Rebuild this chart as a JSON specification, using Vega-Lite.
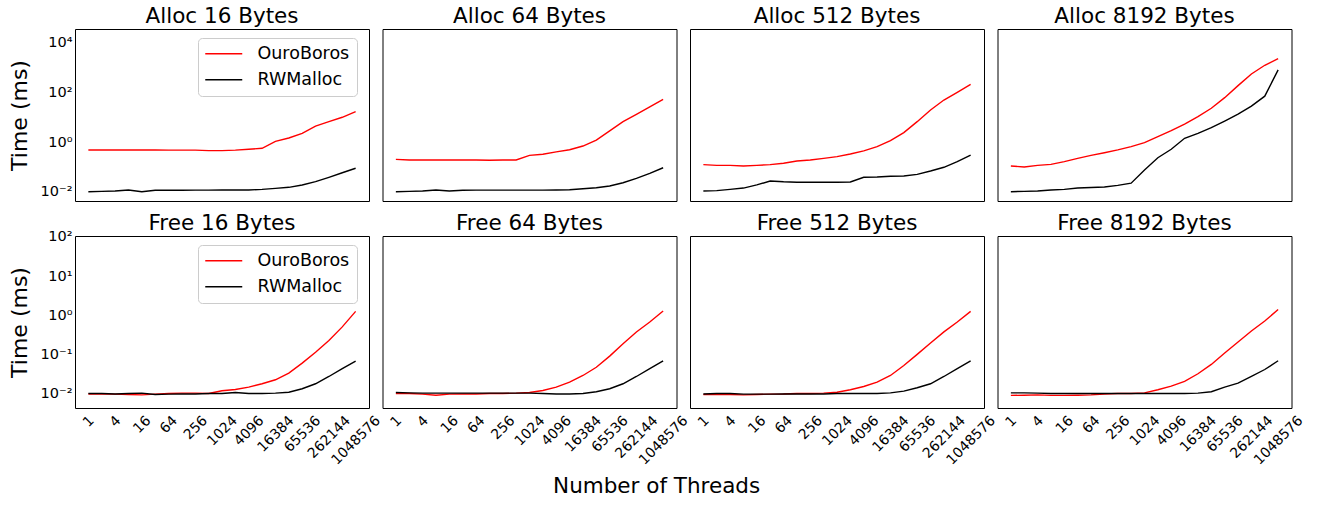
{
  "$schema": "https://vega.github.io/schema/vega-lite/v6.json",
  "padding": {"left": 7, "top": 5, "right": 0, "bottom": 0},
  "config": {
    "font": "DejaVu Sans",
    "view": {"stroke": "#000000", "strokeWidth": 1},
    "title": {"fontWeight": "normal", "fontSize": 21.5, "color": "#000000", "font": "DejaVu Sans"},
    "axis": {"labelColor": "#000000", "titleColor": "#000000", "labelFont": "DejaVu Sans", "titleFont": "DejaVu Sans"},
    "legend": {"labelFont": "DejaVu Sans"}
  },
  "datasets": {
    "a16": [
      {"threads": 1, "OuroBoros": 0.477, "RWMalloc": 0.0100},
      {"threads": 2, "OuroBoros": 0.48, "RWMalloc": 0.0103},
      {"threads": 4, "OuroBoros": 0.48, "RWMalloc": 0.0106},
      {"threads": 8, "OuroBoros": 0.48, "RWMalloc": 0.0117},
      {"threads": 16, "OuroBoros": 0.48, "RWMalloc": 0.0100},
      {"threads": 32, "OuroBoros": 0.48, "RWMalloc": 0.0114},
      {"threads": 64, "OuroBoros": 0.47, "RWMalloc": 0.0114},
      {"threads": 128, "OuroBoros": 0.47, "RWMalloc": 0.0115},
      {"threads": 256, "OuroBoros": 0.47, "RWMalloc": 0.0116},
      {"threads": 512, "OuroBoros": 0.45, "RWMalloc": 0.0116},
      {"threads": 1024, "OuroBoros": 0.45, "RWMalloc": 0.0117},
      {"threads": 2048, "OuroBoros": 0.47, "RWMalloc": 0.0117},
      {"threads": 4096, "OuroBoros": 0.51, "RWMalloc": 0.0117},
      {"threads": 8192, "OuroBoros": 0.56, "RWMalloc": 0.0124},
      {"threads": 16384, "OuroBoros": 1.06, "RWMalloc": 0.0136},
      {"threads": 32768, "OuroBoros": 1.45, "RWMalloc": 0.0150},
      {"threads": 65536, "OuroBoros": 2.24, "RWMalloc": 0.0187},
      {"threads": 131072, "OuroBoros": 4.4, "RWMalloc": 0.0253},
      {"threads": 262144, "OuroBoros": 6.6, "RWMalloc": 0.038},
      {"threads": 524288, "OuroBoros": 9.9, "RWMalloc": 0.058},
      {"threads": 1048576, "OuroBoros": 16.6, "RWMalloc": 0.088}
    ],
    "a64": [
      {"threads": 1, "OuroBoros": 0.20, "RWMalloc": 0.0100},
      {"threads": 2, "OuroBoros": 0.19, "RWMalloc": 0.0103},
      {"threads": 4, "OuroBoros": 0.19, "RWMalloc": 0.0106},
      {"threads": 8, "OuroBoros": 0.19, "RWMalloc": 0.0117},
      {"threads": 16, "OuroBoros": 0.19, "RWMalloc": 0.0106},
      {"threads": 32, "OuroBoros": 0.19, "RWMalloc": 0.0114},
      {"threads": 64, "OuroBoros": 0.19, "RWMalloc": 0.0116},
      {"threads": 128, "OuroBoros": 0.185, "RWMalloc": 0.0116},
      {"threads": 256, "OuroBoros": 0.19, "RWMalloc": 0.0116},
      {"threads": 512, "OuroBoros": 0.19, "RWMalloc": 0.0116},
      {"threads": 1024, "OuroBoros": 0.29, "RWMalloc": 0.0116},
      {"threads": 2048, "OuroBoros": 0.32, "RWMalloc": 0.0116},
      {"threads": 4096, "OuroBoros": 0.40, "RWMalloc": 0.0117},
      {"threads": 8192, "OuroBoros": 0.49, "RWMalloc": 0.0120},
      {"threads": 16384, "OuroBoros": 0.69, "RWMalloc": 0.0131},
      {"threads": 32768, "OuroBoros": 1.2, "RWMalloc": 0.0145},
      {"threads": 65536, "OuroBoros": 2.8, "RWMalloc": 0.017},
      {"threads": 131072, "OuroBoros": 6.6, "RWMalloc": 0.023},
      {"threads": 262144, "OuroBoros": 13, "RWMalloc": 0.0345},
      {"threads": 524288, "OuroBoros": 26, "RWMalloc": 0.055},
      {"threads": 1048576, "OuroBoros": 52, "RWMalloc": 0.092}
    ],
    "a512": [
      {"threads": 1, "OuroBoros": 0.123, "RWMalloc": 0.0106},
      {"threads": 2, "OuroBoros": 0.115, "RWMalloc": 0.011},
      {"threads": 4, "OuroBoros": 0.115, "RWMalloc": 0.0124},
      {"threads": 8, "OuroBoros": 0.108, "RWMalloc": 0.014},
      {"threads": 16, "OuroBoros": 0.115, "RWMalloc": 0.0187},
      {"threads": 32, "OuroBoros": 0.123, "RWMalloc": 0.027},
      {"threads": 64, "OuroBoros": 0.139, "RWMalloc": 0.025},
      {"threads": 128, "OuroBoros": 0.172, "RWMalloc": 0.024},
      {"threads": 256, "OuroBoros": 0.189, "RWMalloc": 0.024},
      {"threads": 512, "OuroBoros": 0.22, "RWMalloc": 0.024},
      {"threads": 1024, "OuroBoros": 0.257, "RWMalloc": 0.024},
      {"threads": 2048, "OuroBoros": 0.33, "RWMalloc": 0.0245},
      {"threads": 4096, "OuroBoros": 0.44, "RWMalloc": 0.038},
      {"threads": 8192, "OuroBoros": 0.65, "RWMalloc": 0.039},
      {"threads": 16384, "OuroBoros": 1.13, "RWMalloc": 0.042},
      {"threads": 32768, "OuroBoros": 2.4, "RWMalloc": 0.043},
      {"threads": 65536, "OuroBoros": 6.6, "RWMalloc": 0.050},
      {"threads": 131072, "OuroBoros": 19.5, "RWMalloc": 0.068},
      {"threads": 262144, "OuroBoros": 49, "RWMalloc": 0.096},
      {"threads": 524288, "OuroBoros": 100, "RWMalloc": 0.162},
      {"threads": 1048576, "OuroBoros": 210, "RWMalloc": 0.30}
    ],
    "a8192": [
      {"threads": 1, "OuroBoros": 0.108, "RWMalloc": 0.0100},
      {"threads": 2, "OuroBoros": 0.0987, "RWMalloc": 0.0103},
      {"threads": 4, "OuroBoros": 0.115, "RWMalloc": 0.0106},
      {"threads": 8, "OuroBoros": 0.126, "RWMalloc": 0.0117},
      {"threads": 16, "OuroBoros": 0.162, "RWMalloc": 0.0124},
      {"threads": 32, "OuroBoros": 0.22, "RWMalloc": 0.014},
      {"threads": 64, "OuroBoros": 0.29, "RWMalloc": 0.0147},
      {"threads": 128, "OuroBoros": 0.37, "RWMalloc": 0.0155},
      {"threads": 256, "OuroBoros": 0.48, "RWMalloc": 0.018},
      {"threads": 512, "OuroBoros": 0.65, "RWMalloc": 0.022},
      {"threads": 1024, "OuroBoros": 0.94, "RWMalloc": 0.075},
      {"threads": 2048, "OuroBoros": 1.64, "RWMalloc": 0.234},
      {"threads": 4096, "OuroBoros": 2.86, "RWMalloc": 0.51},
      {"threads": 8192, "OuroBoros": 5.3, "RWMalloc": 1.41},
      {"threads": 16384, "OuroBoros": 10.5, "RWMalloc": 2.24},
      {"threads": 32768, "OuroBoros": 22.8, "RWMalloc": 3.78},
      {"threads": 65536, "OuroBoros": 61, "RWMalloc": 7.0},
      {"threads": 131072, "OuroBoros": 186, "RWMalloc": 13.4},
      {"threads": 262144, "OuroBoros": 550, "RWMalloc": 28},
      {"threads": 524288, "OuroBoros": 1230, "RWMalloc": 70},
      {"threads": 1048576, "OuroBoros": 2270, "RWMalloc": 800}
    ],
    "f16": [
      {"threads": 1, "OuroBoros": 0.0100, "RWMalloc": 0.0103},
      {"threads": 2, "OuroBoros": 0.0100, "RWMalloc": 0.0103},
      {"threads": 4, "OuroBoros": 0.0099, "RWMalloc": 0.0100},
      {"threads": 8, "OuroBoros": 0.0097, "RWMalloc": 0.0103},
      {"threads": 16, "OuroBoros": 0.0095, "RWMalloc": 0.0105},
      {"threads": 32, "OuroBoros": 0.0099, "RWMalloc": 0.0097},
      {"threads": 64, "OuroBoros": 0.0103, "RWMalloc": 0.0099},
      {"threads": 128, "OuroBoros": 0.0105, "RWMalloc": 0.0100},
      {"threads": 256, "OuroBoros": 0.0105, "RWMalloc": 0.0100},
      {"threads": 512, "OuroBoros": 0.0103, "RWMalloc": 0.0103},
      {"threads": 1024, "OuroBoros": 0.0121, "RWMalloc": 0.0103},
      {"threads": 2048, "OuroBoros": 0.0130, "RWMalloc": 0.0109},
      {"threads": 4096, "OuroBoros": 0.0149, "RWMalloc": 0.0103},
      {"threads": 8192, "OuroBoros": 0.0182, "RWMalloc": 0.0103},
      {"threads": 16384, "OuroBoros": 0.023, "RWMalloc": 0.0105},
      {"threads": 32768, "OuroBoros": 0.034, "RWMalloc": 0.0111},
      {"threads": 65536, "OuroBoros": 0.061, "RWMalloc": 0.0136},
      {"threads": 131072, "OuroBoros": 0.116, "RWMalloc": 0.0182},
      {"threads": 262144, "OuroBoros": 0.23, "RWMalloc": 0.0279},
      {"threads": 524288, "OuroBoros": 0.51, "RWMalloc": 0.044},
      {"threads": 1048576, "OuroBoros": 1.27, "RWMalloc": 0.0686}
    ],
    "f64": [
      {"threads": 1, "OuroBoros": 0.0103, "RWMalloc": 0.0109},
      {"threads": 2, "OuroBoros": 0.0103, "RWMalloc": 0.0107},
      {"threads": 4, "OuroBoros": 0.0099, "RWMalloc": 0.0105},
      {"threads": 8, "OuroBoros": 0.0093, "RWMalloc": 0.0105},
      {"threads": 16, "OuroBoros": 0.0099, "RWMalloc": 0.0105},
      {"threads": 32, "OuroBoros": 0.0100, "RWMalloc": 0.0105},
      {"threads": 64, "OuroBoros": 0.0100, "RWMalloc": 0.0105},
      {"threads": 128, "OuroBoros": 0.0103, "RWMalloc": 0.0105},
      {"threads": 256, "OuroBoros": 0.0103, "RWMalloc": 0.0105},
      {"threads": 512, "OuroBoros": 0.0105, "RWMalloc": 0.0105},
      {"threads": 1024, "OuroBoros": 0.0109, "RWMalloc": 0.0105},
      {"threads": 2048, "OuroBoros": 0.0123, "RWMalloc": 0.0103},
      {"threads": 4096, "OuroBoros": 0.0149, "RWMalloc": 0.0100},
      {"threads": 8192, "OuroBoros": 0.020, "RWMalloc": 0.0100},
      {"threads": 16384, "OuroBoros": 0.0296, "RWMalloc": 0.0103},
      {"threads": 32768, "OuroBoros": 0.048, "RWMalloc": 0.0114},
      {"threads": 65536, "OuroBoros": 0.092, "RWMalloc": 0.0136},
      {"threads": 131072, "OuroBoros": 0.19, "RWMalloc": 0.0182},
      {"threads": 262144, "OuroBoros": 0.38, "RWMalloc": 0.0279},
      {"threads": 524288, "OuroBoros": 0.68, "RWMalloc": 0.044},
      {"threads": 1048576, "OuroBoros": 1.30, "RWMalloc": 0.070}
    ],
    "f512": [
      {"threads": 1, "OuroBoros": 0.0097, "RWMalloc": 0.0100},
      {"threads": 2, "OuroBoros": 0.0097, "RWMalloc": 0.0103},
      {"threads": 4, "OuroBoros": 0.0097, "RWMalloc": 0.0103},
      {"threads": 8, "OuroBoros": 0.0095, "RWMalloc": 0.0099},
      {"threads": 16, "OuroBoros": 0.0097, "RWMalloc": 0.0099},
      {"threads": 32, "OuroBoros": 0.0099, "RWMalloc": 0.0099},
      {"threads": 64, "OuroBoros": 0.0100, "RWMalloc": 0.0100},
      {"threads": 128, "OuroBoros": 0.0103, "RWMalloc": 0.0100},
      {"threads": 256, "OuroBoros": 0.0103, "RWMalloc": 0.0100},
      {"threads": 512, "OuroBoros": 0.0105, "RWMalloc": 0.0100},
      {"threads": 1024, "OuroBoros": 0.0111, "RWMalloc": 0.0103},
      {"threads": 2048, "OuroBoros": 0.0128, "RWMalloc": 0.0103},
      {"threads": 4096, "OuroBoros": 0.0155, "RWMalloc": 0.0103},
      {"threads": 8192, "OuroBoros": 0.020, "RWMalloc": 0.0103},
      {"threads": 16384, "OuroBoros": 0.0296, "RWMalloc": 0.0107},
      {"threads": 32768, "OuroBoros": 0.053, "RWMalloc": 0.0118},
      {"threads": 65536, "OuroBoros": 0.102, "RWMalloc": 0.0144},
      {"threads": 131072, "OuroBoros": 0.198, "RWMalloc": 0.0182},
      {"threads": 262144, "OuroBoros": 0.38, "RWMalloc": 0.0279},
      {"threads": 524288, "OuroBoros": 0.68, "RWMalloc": 0.044},
      {"threads": 1048576, "OuroBoros": 1.27, "RWMalloc": 0.070}
    ],
    "f8192": [
      {"threads": 1, "OuroBoros": 0.0092, "RWMalloc": 0.0107},
      {"threads": 2, "OuroBoros": 0.0093, "RWMalloc": 0.0107},
      {"threads": 4, "OuroBoros": 0.0095, "RWMalloc": 0.0105},
      {"threads": 8, "OuroBoros": 0.0092, "RWMalloc": 0.0103},
      {"threads": 16, "OuroBoros": 0.0092, "RWMalloc": 0.0103},
      {"threads": 32, "OuroBoros": 0.0093, "RWMalloc": 0.0103},
      {"threads": 64, "OuroBoros": 0.0095, "RWMalloc": 0.0103},
      {"threads": 128, "OuroBoros": 0.0100, "RWMalloc": 0.0103},
      {"threads": 256, "OuroBoros": 0.0103, "RWMalloc": 0.0103},
      {"threads": 512, "OuroBoros": 0.0103, "RWMalloc": 0.0103},
      {"threads": 1024, "OuroBoros": 0.0107, "RWMalloc": 0.0103},
      {"threads": 2048, "OuroBoros": 0.0128, "RWMalloc": 0.0103},
      {"threads": 4096, "OuroBoros": 0.0158, "RWMalloc": 0.0103},
      {"threads": 8192, "OuroBoros": 0.0209, "RWMalloc": 0.0103},
      {"threads": 16384, "OuroBoros": 0.0327, "RWMalloc": 0.0105},
      {"threads": 32768, "OuroBoros": 0.0566, "RWMalloc": 0.0114},
      {"threads": 65536, "OuroBoros": 0.11, "RWMalloc": 0.0149},
      {"threads": 131072, "OuroBoros": 0.21, "RWMalloc": 0.0188},
      {"threads": 262144, "OuroBoros": 0.40, "RWMalloc": 0.0279},
      {"threads": 524288, "OuroBoros": 0.72, "RWMalloc": 0.042},
      {"threads": 1048576, "OuroBoros": 1.41, "RWMalloc": 0.070}
    ]
  },
  "title": {"text": "Number of Threads", "orient": "bottom", "anchor": "middle", "fontSize": 21.5, "fontWeight": "normal", "offset": 8, "frame": "bounds"},
  "spacing": 10,
  "resolve": {"scale": {"color": "independent"}, "legend": {"color": "independent"}},
  "vconcat": [
    {
      "spacing": 13.5,
      "bounds": "flush",
      "resolve": {"scale": {"color": "independent"}, "legend": {"color": "independent"}},
      "hconcat": [
        {
          "data": {"name": "a16"},
          "transform": [{"fold": ["OuroBoros", "RWMalloc"], "as": ["allocator", "time"]}],
          "title": {"text": "Alloc 16 Bytes", "offset": 2},
          "width": 294, "height": 172,
          "mark": {"type": "line", "strokeWidth": 1.4, "clip": true},
          "encoding": {
            "x": {"field": "threads", "type": "quantitative", "scale": {"type": "log", "base": 2, "domain": [0.5, 2097152], "nice": false}, "axis": null},
            "y": {"field": "time", "type": "quantitative", "scale": {"type": "log", "domain": [0.00422, 35480], "nice": false},
              "axis": {"values": [0.01, 1, 100, 10000], "labelExpr": "datum.value < 0.05 ? '10⁻²' : datum.value < 0.5 ? '10⁻¹' : datum.value < 5 ? '10⁰' : datum.value < 50 ? '10¹' : datum.value < 500 ? '10²' : datum.value < 5000 ? '10³' : '10⁴'", "ticks": false, "domain": false, "grid": false, "labelFontSize": 14.5, "labelPadding": 3, "title": "Time (ms)", "titleFontSize": 22, "titleFontWeight": "normal", "titlePadding": 9}},
            "color": {"field": "allocator", "type": "nominal", "scale": {"domain": ["OuroBoros", "RWMalloc"], "range": ["#ff0000", "#000000"]},
              "legend": {"title": null, "orient": "none", "legendX": 123, "legendY": 9, "direction": "vertical", "symbolType": "M-3,0H3", "symbolSize": 152, "symbolStrokeWidth": 1.4, "labelFontSize": 17.5, "labelColor": "#000000", "labelOffset": 25, "symbolOffset": 10, "rowPadding": 7, "padding": 7, "fillColor": "#ffffff", "strokeColor": "#cccccc", "cornerRadius": 4, "labelLimit": 300}}
          }
        },
        {
          "data": {"name": "a64"},
          "transform": [{"fold": ["OuroBoros", "RWMalloc"], "as": ["allocator", "time"]}],
          "title": {"text": "Alloc 64 Bytes", "offset": 2},
          "width": 294, "height": 172,
          "mark": {"type": "line", "strokeWidth": 1.4, "clip": true},
          "encoding": {
            "x": {"field": "threads", "type": "quantitative", "scale": {"type": "log", "base": 2, "domain": [0.5, 2097152], "nice": false}, "axis": null},
            "y": {"field": "time", "type": "quantitative", "scale": {"type": "log", "domain": [0.00422, 35480], "nice": false}, "axis": null},
            "color": {"field": "allocator", "type": "nominal", "scale": {"domain": ["OuroBoros", "RWMalloc"], "range": ["#ff0000", "#000000"]}, "legend": null}
          }
        },
        {
          "data": {"name": "a512"},
          "transform": [{"fold": ["OuroBoros", "RWMalloc"], "as": ["allocator", "time"]}],
          "title": {"text": "Alloc 512 Bytes", "offset": 2},
          "width": 294, "height": 172,
          "mark": {"type": "line", "strokeWidth": 1.4, "clip": true},
          "encoding": {
            "x": {"field": "threads", "type": "quantitative", "scale": {"type": "log", "base": 2, "domain": [0.5, 2097152], "nice": false}, "axis": null},
            "y": {"field": "time", "type": "quantitative", "scale": {"type": "log", "domain": [0.00422, 35480], "nice": false}, "axis": null},
            "color": {"field": "allocator", "type": "nominal", "scale": {"domain": ["OuroBoros", "RWMalloc"], "range": ["#ff0000", "#000000"]}, "legend": null}
          }
        },
        {
          "data": {"name": "a8192"},
          "transform": [{"fold": ["OuroBoros", "RWMalloc"], "as": ["allocator", "time"]}],
          "title": {"text": "Alloc 8192 Bytes", "offset": 2},
          "width": 294, "height": 172,
          "mark": {"type": "line", "strokeWidth": 1.4, "clip": true},
          "encoding": {
            "x": {"field": "threads", "type": "quantitative", "scale": {"type": "log", "base": 2, "domain": [0.5, 2097152], "nice": false}, "axis": null},
            "y": {"field": "time", "type": "quantitative", "scale": {"type": "log", "domain": [0.00422, 35480], "nice": false}, "axis": null},
            "color": {"field": "allocator", "type": "nominal", "scale": {"domain": ["OuroBoros", "RWMalloc"], "range": ["#ff0000", "#000000"]}, "legend": null}
          }
        }
      ]
    },
    {
      "spacing": 13.5,
      "bounds": "flush",
      "resolve": {"scale": {"color": "independent"}, "legend": {"color": "independent"}},
      "hconcat": [
        {
          "data": {"name": "f16"},
          "transform": [{"fold": ["OuroBoros", "RWMalloc"], "as": ["allocator", "time"]}],
          "title": {"text": "Free 16 Bytes", "offset": -6},
          "width": 294, "height": 172,
          "mark": {"type": "line", "strokeWidth": 1.4, "clip": true},
          "encoding": {
            "x": {"field": "threads", "type": "quantitative", "scale": {"type": "log", "base": 2, "domain": [0.5, 2097152], "nice": false},
              "axis": {"values": [1, 4, 16, 64, 256, 1024, 4096, 16384, 65536, 262144, 1048576], "format": "d", "labelAngle": -45, "labelAlign": "center", "labelBaseline": "middle", "ticks": false, "domain": false, "grid": false, "labelFontSize": 14, "labelPadding": {"expr": "10 + 3.15*length(datum.label)"}, "labelOverlap": false, "title": null}},
            "y": {"field": "time", "type": "quantitative", "scale": {"type": "log", "domain": [0.0044, 105], "nice": false},
              "axis": {"values": [0.01, 0.1, 1, 10, 100], "labelExpr": "datum.value < 0.05 ? '10⁻²' : datum.value < 0.5 ? '10⁻¹' : datum.value < 5 ? '10⁰' : datum.value < 50 ? '10¹' : datum.value < 500 ? '10²' : datum.value < 5000 ? '10³' : '10⁴'", "ticks": false, "domain": false, "grid": false, "labelFontSize": 14.5, "labelPadding": 3, "title": "Time (ms)", "titleFontSize": 22, "titleFontWeight": "normal", "titlePadding": 9}},
            "color": {"field": "allocator", "type": "nominal", "scale": {"domain": ["OuroBoros", "RWMalloc"], "range": ["#ff0000", "#000000"]},
              "legend": {"title": null, "orient": "none", "legendX": 123, "legendY": 9, "direction": "vertical", "symbolType": "M-3,0H3", "symbolSize": 152, "symbolStrokeWidth": 1.4, "labelFontSize": 17.5, "labelColor": "#000000", "labelOffset": 25, "symbolOffset": 10, "rowPadding": 7, "padding": 7, "fillColor": "#ffffff", "strokeColor": "#cccccc", "cornerRadius": 4, "labelLimit": 300}}
          }
        },
        {
          "data": {"name": "f64"},
          "transform": [{"fold": ["OuroBoros", "RWMalloc"], "as": ["allocator", "time"]}],
          "title": {"text": "Free 64 Bytes", "offset": 2},
          "width": 294, "height": 172,
          "mark": {"type": "line", "strokeWidth": 1.4, "clip": true},
          "encoding": {
            "x": {"field": "threads", "type": "quantitative", "scale": {"type": "log", "base": 2, "domain": [0.5, 2097152], "nice": false},
              "axis": {"values": [1, 4, 16, 64, 256, 1024, 4096, 16384, 65536, 262144, 1048576], "format": "d", "labelAngle": -45, "labelAlign": "center", "labelBaseline": "middle", "ticks": false, "domain": false, "grid": false, "labelFontSize": 14, "labelPadding": {"expr": "10 + 3.15*length(datum.label)"}, "labelOverlap": false, "title": null}},
            "y": {"field": "time", "type": "quantitative", "scale": {"type": "log", "domain": [0.0044, 105], "nice": false}, "axis": null},
            "color": {"field": "allocator", "type": "nominal", "scale": {"domain": ["OuroBoros", "RWMalloc"], "range": ["#ff0000", "#000000"]}, "legend": null}
          }
        },
        {
          "data": {"name": "f512"},
          "transform": [{"fold": ["OuroBoros", "RWMalloc"], "as": ["allocator", "time"]}],
          "title": {"text": "Free 512 Bytes", "offset": 2},
          "width": 294, "height": 172,
          "mark": {"type": "line", "strokeWidth": 1.4, "clip": true},
          "encoding": {
            "x": {"field": "threads", "type": "quantitative", "scale": {"type": "log", "base": 2, "domain": [0.5, 2097152], "nice": false},
              "axis": {"values": [1, 4, 16, 64, 256, 1024, 4096, 16384, 65536, 262144, 1048576], "format": "d", "labelAngle": -45, "labelAlign": "center", "labelBaseline": "middle", "ticks": false, "domain": false, "grid": false, "labelFontSize": 14, "labelPadding": {"expr": "10 + 3.15*length(datum.label)"}, "labelOverlap": false, "title": null}},
            "y": {"field": "time", "type": "quantitative", "scale": {"type": "log", "domain": [0.0044, 105], "nice": false}, "axis": null},
            "color": {"field": "allocator", "type": "nominal", "scale": {"domain": ["OuroBoros", "RWMalloc"], "range": ["#ff0000", "#000000"]}, "legend": null}
          }
        },
        {
          "data": {"name": "f8192"},
          "transform": [{"fold": ["OuroBoros", "RWMalloc"], "as": ["allocator", "time"]}],
          "title": {"text": "Free 8192 Bytes", "offset": 2},
          "width": 294, "height": 172,
          "mark": {"type": "line", "strokeWidth": 1.4, "clip": true},
          "encoding": {
            "x": {"field": "threads", "type": "quantitative", "scale": {"type": "log", "base": 2, "domain": [0.5, 2097152], "nice": false},
              "axis": {"values": [1, 4, 16, 64, 256, 1024, 4096, 16384, 65536, 262144, 1048576], "format": "d", "labelAngle": -45, "labelAlign": "center", "labelBaseline": "middle", "ticks": false, "domain": false, "grid": false, "labelFontSize": 14, "labelPadding": {"expr": "10 + 3.15*length(datum.label)"}, "labelOverlap": false, "title": null}},
            "y": {"field": "time", "type": "quantitative", "scale": {"type": "log", "domain": [0.0044, 105], "nice": false}, "axis": null},
            "color": {"field": "allocator", "type": "nominal", "scale": {"domain": ["OuroBoros", "RWMalloc"], "range": ["#ff0000", "#000000"]}, "legend": null}
          }
        }
      ]
    }
  ]
}
